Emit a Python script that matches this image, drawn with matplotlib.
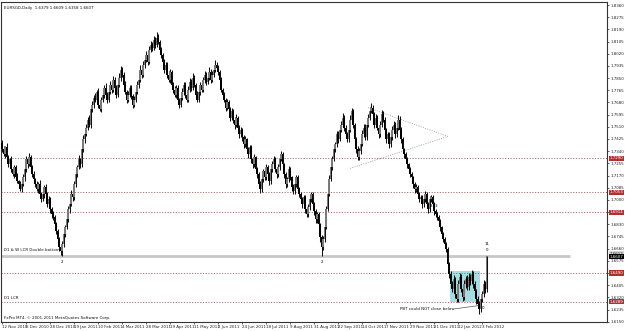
import matplotlib
matplotlib.use("Agg")
import matplotlib.pyplot as plt
from matplotlib.patches import Rectangle
import matplotlib.transforms as mtransforms

# ---------------- data ----------------
first_open = 1.7400
closes = [
    1.7353, 1.7318, 1.7366, 1.7297, 1.7248, 1.7283, 1.7214, 1.7179, 1.7227, 1.7158,
    1.7130, 1.7109, 1.7075, 1.7109, 1.7158, 1.7214, 1.7283, 1.7248, 1.7297, 1.7227,
    1.7179, 1.7144, 1.7109, 1.7075, 1.7109, 1.7040, 1.7005, 1.7040, 1.7088, 1.7040,
    1.6970, 1.7005, 1.6936, 1.6901, 1.6880, 1.6831, 1.6783, 1.6727, 1.6671, 1.6644,
    1.6692, 1.6762, 1.6810, 1.6866, 1.6936, 1.6970, 1.7040, 1.7019, 1.7109, 1.7179,
    1.7227, 1.7283, 1.7248, 1.7353, 1.7422, 1.7457, 1.7505, 1.7561, 1.7526, 1.7631,
    1.7665, 1.7714, 1.7700, 1.7756, 1.7665, 1.7631, 1.7700, 1.7735, 1.7783, 1.7735,
    1.7700, 1.7756, 1.7804, 1.7770, 1.7839, 1.7783, 1.7735, 1.7804, 1.7853, 1.7909,
    1.7874, 1.7804, 1.7756, 1.7700, 1.7735, 1.7783, 1.7728, 1.7665, 1.7700, 1.7756,
    1.7804, 1.7839, 1.7909, 1.7874, 1.7943, 1.7978, 1.8013, 1.7964, 1.8048, 1.8082,
    1.8061, 1.8117, 1.8082, 1.8131, 1.8103, 1.8048, 1.8013, 1.7964, 1.7909, 1.7943,
    1.7874, 1.7839, 1.7895, 1.7804, 1.7770, 1.7735, 1.7783, 1.7700, 1.7665, 1.7714,
    1.7756, 1.7804, 1.7735, 1.7700, 1.7770, 1.7825, 1.7783, 1.7853, 1.7804, 1.7735,
    1.7700, 1.7756, 1.7804, 1.7770, 1.7839, 1.7874, 1.7825, 1.7853, 1.7895, 1.7839,
    1.7874, 1.7909, 1.7943, 1.7922, 1.7895, 1.7839, 1.7770, 1.7735, 1.7700, 1.7644,
    1.7686, 1.7631, 1.7575, 1.7617, 1.7561, 1.7526, 1.7575, 1.7505, 1.7457, 1.7491,
    1.7436, 1.7387, 1.7422, 1.7353, 1.7318, 1.7366, 1.7283, 1.7248, 1.7297, 1.7214,
    1.7179, 1.7109, 1.7075, 1.7144, 1.7200, 1.7158, 1.7227, 1.7179, 1.7130, 1.7214,
    1.7248, 1.7283, 1.7214, 1.7179, 1.7227, 1.7283, 1.7318, 1.7248, 1.7179, 1.7109,
    1.7144, 1.7214, 1.7158, 1.7088, 1.7061, 1.7109, 1.7158, 1.7075, 1.7040, 1.7005,
    1.6970, 1.7019, 1.6936, 1.6901, 1.6949, 1.7005, 1.7040, 1.6970, 1.6922, 1.6866,
    1.6901, 1.6831, 1.6741, 1.6671, 1.6727, 1.6810, 1.6936, 1.7040, 1.7144, 1.7227,
    1.7283, 1.7353, 1.7387, 1.7457, 1.7422, 1.7491, 1.7526, 1.7575, 1.7505, 1.7457,
    1.7422, 1.7491, 1.7561, 1.7617, 1.7526, 1.7422, 1.7353, 1.7297, 1.7339, 1.7387,
    1.7457, 1.7505, 1.7436, 1.7526, 1.7575, 1.7617, 1.7644, 1.7596, 1.7526, 1.7575,
    1.7505, 1.7457, 1.7526, 1.7596, 1.7561, 1.7491, 1.7422, 1.7457, 1.7387, 1.7436,
    1.7491, 1.7526, 1.7457, 1.7505, 1.7561, 1.7491, 1.7422, 1.7353, 1.7318, 1.7283,
    1.7248, 1.7214, 1.7179, 1.7158, 1.7109, 1.7075, 1.7088, 1.7040, 1.7005, 1.7019,
    1.6970, 1.7005, 1.7040, 1.6970, 1.6936, 1.7005, 1.7019, 1.6970, 1.6922, 1.6901,
    1.6880, 1.6852, 1.6810, 1.6762, 1.6727, 1.6692, 1.6658, 1.6553, 1.6484, 1.6414,
    1.6380, 1.6449, 1.6345, 1.6310, 1.6414, 1.6463, 1.6380, 1.6324, 1.6414, 1.6449,
    1.6393, 1.6463, 1.6435, 1.6484, 1.6414, 1.6366, 1.6310, 1.6275, 1.6241, 1.6310,
    1.6345, 1.6414, 1.6379, 1.6607,
]
upper_wick_pips = [
    15, 22, 10, 28, 18, 12, 25, 14, 20, 16, 30, 12, 22, 18, 26, 15, 20, 12, 28, 16,
    18, 24, 12, 20, 16, 28, 14, 22, 18, 25, 12, 20, 16, 14, 22, 18, 12, 16, 14, 10,
    20, 25, 15, 30, 22, 18, 26, 14, 20, 24, 16, 28, 12, 22, 30, 18, 24, 15, 28, 20,
    25, 18, 30, 14, 22, 28, 16, 24, 20, 30, 18, 22, 26, 15, 28, 20, 16, 24, 30, 22,
    20, 16, 24, 14, 28, 22, 18, 12, 26, 20, 24, 18, 30, 22, 26, 20, 28, 18, 24, 30,
    22, 30, 18, 40, 24, 16, 20, 14, 22, 18, 16, 24, 20, 14, 18, 22, 16, 20, 12, 24,
    26, 20, 18, 22, 28, 24, 16, 30, 20, 14, 22, 26, 18, 24, 20, 28, 16, 22, 30, 18,
    24, 28, 32, 20, 16, 14, 18, 12, 16, 14, 20, 12, 16, 22, 14, 18, 24, 12, 16, 20,
    14, 18, 22, 12, 16, 20, 14, 18, 22, 12, 16, 14, 20, 24, 18, 16, 22, 14, 18, 24,
    26, 20, 16, 14, 22, 18, 24, 16, 12, 14, 18, 24, 16, 12, 20, 22, 18, 14, 16, 12,
    14, 18, 12, 16, 20, 24, 18, 14, 12, 16, 14, 12, 10, 16, 22, 26, 24, 20, 28, 22,
    24, 28, 20, 26, 22, 30, 24, 28, 18, 16, 20, 26, 30, 24, 16, 14, 18, 22, 26, 24,
    28, 22, 26, 30, 24, 28, 32, 20, 18, 26, 20, 16, 24, 28, 22, 18, 14, 20, 16, 22,
    26, 28, 20, 24, 30, 22, 16, 14, 12, 16, 14, 12, 18, 14, 12, 16, 20, 14, 12, 18,
    16, 22, 20, 14, 12, 24, 18, 16, 12, 14, 16, 14, 12, 10, 14, 12, 16, 10, 14, 18,
    22, 28, 16, 20, 30, 24, 18, 22, 26, 20, 24, 28, 20, 26, 22, 18, 14, 16, 18, 20,
    22, 26, 18, 2,
]
lower_wick_pips = [
    18, 12, 25, 14, 20, 16, 22, 12, 26, 18, 14, 28, 16, 20, 12, 24, 18, 22, 14, 20,
    16, 20, 22, 14, 25, 18, 20, 16, 24, 14, 22, 18, 26, 24, 20, 28, 22, 26, 30, 30,
    35, 18, 20, 16, 22, 24, 14, 26, 18, 16, 20, 14, 22, 18, 16, 24, 14, 20, 16, 22,
    18, 24, 16, 22, 26, 14, 20, 18, 24, 16, 22, 14, 20, 26, 18, 24, 22, 16, 14, 20,
    16, 22, 18, 24, 20, 14, 22, 26, 18, 20, 16, 22, 14, 20, 18, 24, 16, 20, 14, 18,
    20, 14, 22, 16, 18, 24, 20, 26, 22, 18, 24, 16, 20, 26, 22, 18, 24, 20, 22, 16,
    18, 22, 24, 16, 20, 14, 22, 18, 16, 24, 20, 18, 22, 14, 16, 20, 24, 18, 14, 22,
    16, 14, 18, 20, 24, 22, 18, 26, 20, 24, 18, 22, 26, 20, 24, 28, 20, 26, 24, 18,
    22, 26, 20, 24, 28, 18, 26, 24, 20, 28, 24, 26, 30, 20, 18, 22, 20, 24, 26, 18,
    16, 14, 22, 24, 18, 16, 14, 20, 26, 24, 18, 16, 22, 26, 20, 18, 16, 24, 22, 26,
    24, 20, 26, 22, 18, 16, 20, 26, 24, 28, 26, 30, 34, 60, 24, 18, 16, 14, 12, 14,
    16, 14, 18, 20, 22, 14, 16, 18, 24, 22, 20, 16, 14, 18, 24, 22, 26, 20, 18, 16,
    14, 16, 20, 18, 14, 16, 14, 18, 22, 16, 18, 22, 20, 16, 18, 20, 22, 18, 24, 20,
    16, 18, 22, 20, 16, 18, 22, 24, 26, 22, 24, 26, 22, 24, 28, 26, 22, 24, 20, 26,
    24, 22, 20, 26, 24, 18, 22, 24, 26, 22, 20, 24, 26, 28, 24, 26, 22, 30, 26, 28,
    26, 22, 28, 24, 20, 26, 24, 28, 22, 26, 24, 20, 26, 22, 28, 30, 34, 32, 40, 20,
    24, 22, 26, 21,
]

date_label_bars = [0, 16, 32, 48, 64, 80, 96, 112, 128, 144, 160, 176, 192, 208,
                   224, 240, 256, 272, 288, 304, 320]
date_labels = ["12 Nov 2010", "6 Dec 2010", "28 Dec 2010", "19 Jan 2011",
               "10 Feb 2011", "4 Mar 2011", "28 Mar 2011", "19 Apr 2011",
               "11 May 2011", "2 Jun 2011", "24 Jun 2011", "18 Jul 2011",
               "9 Aug 2011", "31 Aug 2011", "22 Sep 2011", "14 Oct 2011",
               "7 Nov 2011", "29 Nov 2011", "21 Dec 2011", "12 Jan 2012",
               "3 Feb 2012"]
price_ticks = [1.8360, 1.8275, 1.8190, 1.8105, 1.8020, 1.7935, 1.7850, 1.7765,
               1.7680, 1.7595, 1.7510, 1.7425, 1.7340, 1.7255, 1.7170, 1.7085,
               1.7000, 1.6915, 1.6830, 1.6745, 1.6660, 1.6575, 1.6490, 1.6405,
               1.6320, 1.6235, 1.6150]
price_tick_labels = ["1.8360", "1.8275", "1.8190", "1.8105", "1.8020", "1.7935",
                     "1.7850", "1.7765", "1.7680", "1.7595", "1.7510", "1.7425",
                     "1.7340", "1.7255", "1.7170", "1.7085", "1.7000", "1.6915",
                     "1.6830", "1.6745", "1.6660", "1.6575", "1.6490", "1.6405",
                     "1.6320", "1.6235", "1.6150"]

level_lines = [1.7290, 1.7053, 1.6914, 1.6490, 1.6289]
double_bottom_level = 1.6612
double_bottom_end_bar = 378.7
box_bars = [298.7, 318.7]
box_prices = [1.6289, 1.6505]
triangle_bars = [244.0, 297.3, 232.0]
triangle_prices = [1.7644, 1.7443, 1.7220]
pbt_line_bars = [302.0, 317.3]
pbt_line_prices = [1.6240, 1.6262]

title_text = "EURSGD,Daily  1.6379 1.6609 1.6358 1.6607"
last_close = closes[-1]

# ---------------- figure ----------------
W, H = 625, 331
fig = plt.figure(figsize=(W / 100, H / 100), dpi=100, facecolor="white")
ax_left, ax_right, ax_top, ax_bottom = 1, 607, 2, 322
ax = fig.add_axes([ax_left / W, (H - ax_bottom) / H,
                   (ax_right - ax_left) / W, (ax_bottom - ax_top) / H])
ax.set_facecolor("white")

ax.set_xlim(-0.67, 403.3)
ax.set_ylim(1.6148, 1.8381)

n = len(closes)
xs = list(range(n))
opens = [first_open] + closes[:-1]
highs = [max(o, c) + u * 1e-4 for o, c, u in zip(opens, closes, upper_wick_pips)]
lows = [min(o, c) - d * 1e-4 for o, c, d in zip(opens, closes, lower_wick_pips)]

# cyan box (behind candles)
ax.add_patch(Rectangle((box_bars[0], box_prices[0]), box_bars[1] - box_bars[0],
                       box_prices[1] - box_prices[0], facecolor="#a9dde6",
                       edgecolor="none", zorder=1))

# horizontal levels
for lv in level_lines:
    ax.axhline(lv, color="#a87070", lw=0.7, ls=(0, (1.2, 1.6)), zorder=2)
ax.plot([-1, double_bottom_end_bar], [double_bottom_level] * 2,
        color="#c8c8c8", lw=2.0, solid_capstyle="butt", zorder=2)

# triangle
tb, tp = triangle_bars, triangle_prices
ax.plot([tb[0], tb[1]], [tp[0], tp[1]], color="#9a9a9a", lw=0.6,
        ls=(0, (1.2, 1.6)), zorder=2)
ax.plot([tb[2], tb[1]], [tp[2], tp[1]], color="#9a9a9a", lw=0.6,
        ls=(0, (1.2, 1.6)), zorder=2)

# candles
ax.vlines(xs, lows, highs, color="#111111", lw=0.75, zorder=3)
body_bottom = [min(o, c) for o, c in zip(opens, closes)]
body_h = [max(abs(c - o), 0.00015) for o, c in zip(opens, closes)]
body_col = ["#7a7a7a" if c >= o else "#000000" for o, c in zip(opens, closes)]
ax.bar(xs, body_h, bottom=body_bottom, width=0.85, color=body_col,
       linewidth=0, zorder=4)

# PBT line
ax.plot(pbt_line_bars, pbt_line_prices, color="#555555", lw=0.5, zorder=5)

# ticks
fs = 2.9
ax.yaxis.tick_right()
ax.set_yticks(price_ticks)
ax.set_yticklabels(price_tick_labels)
ax.set_xticks(date_label_bars)
ax.set_xticklabels(date_labels, ha="left")
ax.tick_params(axis="y", labelsize=fs, length=1.5, width=0.5, pad=1.0,
               colors="#222222")
ax.tick_params(axis="x", labelsize=fs, length=1.5, width=0.5, pad=0.8,
               colors="#222222")
for s in ax.spines.values():
    s.set_linewidth(0.8)
    s.set_color("#333333")

# right-side highlighted price labels
trans = mtransforms.blended_transform_factory(ax.transAxes, ax.transData)
box_style = "square,pad=0.15"
for lv in level_lines:
    ax.text(1.0045, lv, "%.4f" % lv, transform=trans, fontsize=fs,
            color="white", va="center", ha="left", zorder=10, clip_on=False,
            bbox=dict(boxstyle=box_style, fc="#b03030", ec="none"))
ax.text(1.0045, double_bottom_level + 0.0014, "%.4f" % double_bottom_level,
        transform=trans, fontsize=fs, color="#222222", va="center",
        ha="left", zorder=10, clip_on=False,
        bbox=dict(boxstyle=box_style, fc="#d4d4d4", ec="none"))
ax.text(1.0045, last_close - 0.0003, "%.4f" % last_close, transform=trans,
        fontsize=fs, color="white", va="center", ha="left", zorder=11,
        clip_on=False, bbox=dict(boxstyle=box_style, fc="#000000", ec="none"))

# annotations
ax.text(3 / 606, 1 - 6 / 320, title_text, transform=ax.transAxes,
        fontsize=fs, va="center", ha="left", color="#111111")
ax.text(3 / 606, 4 / 320, "FxPro MT4, \u00a9 2001-2011 MetaQuotes Software Corp.",
        transform=ax.transAxes, fontsize=fs, va="center", ha="left",
        color="#111111")
ax.text(1.0, double_bottom_level + 0.0022, "D1 & W LCR Double bottom",
        fontsize=fs, va="bottom", ha="left", color="#111111", zorder=6)
ax.text(1.0, level_lines[4] + 0.0010, "D1 LCR", fontsize=fs, va="bottom",
        ha="left", color="#111111", zorder=6)
ax.text(301.5, 1.6240, "PBT could NOT close below", fontsize=fs,
        va="center", ha="right", color="#111111", zorder=6)
ax.text(40, 1.6570, "2", fontsize=fs, va="center", ha="center", zorder=6)
ax.text(213.5, 1.6570, "2", fontsize=fs, va="center", ha="center", zorder=6)
ax.text(287.5, 1.6955, "3  3", fontsize=fs, va="center", ha="center", zorder=6)
ax.text(323.5, 1.6695, "11", fontsize=fs, va="center", ha="center", zorder=6)
ax.text(323.5, 1.6648, "0", fontsize=fs, va="center", ha="center", zorder=6)
ax.text(320.5, 1.6245, "0", fontsize=fs, va="center", ha="center", zorder=6)

fig.savefig("out.png", dpi=100, facecolor="white")
